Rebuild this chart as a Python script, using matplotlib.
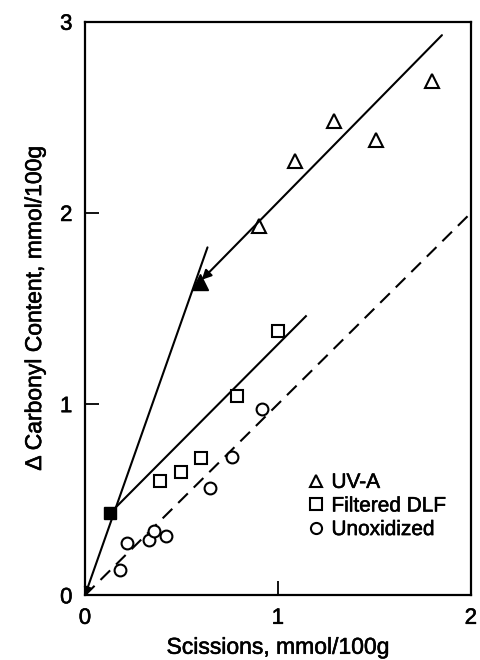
import numpy as np
import matplotlib
matplotlib.use('Agg')
import matplotlib.pyplot as plt
import matplotlib.patheffects as pe

plt.rcParams['font.family'] = ['Liberation Sans', 'DejaVu Sans']

# UV-A exposed samples
uva_x = [0.90, 1.09, 1.29, 1.51, 1.80]
uva_y = [1.93, 2.27, 2.48, 2.38, 2.69]

# filtered daylight fluorescent
dlf_x = [0.39, 0.50, 0.60, 0.79, 1.00]
dlf_y = [0.60, 0.645, 0.72, 1.04, 1.38]

# unoxidized reference
unox_x = [0.18, 0.22, 0.33, 0.36, 0.42, 0.65, 0.76, 0.92]
unox_y = [0.13, 0.276, 0.29, 0.337, 0.31, 0.56, 0.724, 0.972]

# intercept points (filled)
dlf_start = (0.13, 0.43)
uva_start = (0.595, 1.64)

# fitted line ends
steep_end = (0.635, 1.82)
uva_end = (1.85, 2.93)
dlf_end = (1.145, 1.46)
unox_end = (2.0, 2.0)

fig = plt.figure(figsize=(4.8, 6.6), dpi=100)
ax = fig.add_axes([0.177, 0.098, 0.804, 0.869])

lw = 1.5
ax.plot([dlf_start[0], dlf_end[0]], [dlf_start[1], dlf_end[1]], color='black', lw=lw)
ax.plot([0, unox_end[0]], [0, unox_end[1]], color='black', lw=lw, ls=(0, (6.5, 4)))

# arrows toward the origin and toward the UV-A intercept
ax.annotate('', xy=(0, 0), xytext=steep_end,
            arrowprops=dict(arrowstyle='-|>', color='black', lw=lw,
                            mutation_scale=11, shrinkA=0, shrinkB=0))
ax.annotate('', xy=uva_start, xytext=uva_end,
            arrowprops=dict(arrowstyle='-|>', color='black', lw=lw,
                            mutation_scale=14, shrinkA=0, shrinkB=2))

ax.plot(*uva_start, marker='^', ms=11, color='black', ls='none')
ax.plot(*dlf_start, marker='s', ms=9, color='black', ls='none')

mk = dict(ls='none', mfc='white', mec='black', mew=1.5)
h1, = ax.plot(uva_x, uva_y, marker='^', ms=10, **mk, label='UV-A')
h2, = ax.plot(dlf_x, dlf_y, marker='s', ms=8.5, **mk, label='Filtered DLF')
h3, = ax.plot(unox_x, unox_y, marker='o', ms=8.5, **mk, label='Unoxidized')

leg = ax.legend(handles=[h1, h2, h3], loc='upper left',
                bbox_to_anchor=(0.555, 0.228), frameon=False,
                handlelength=0.8, handletextpad=0.35, labelspacing=0.22,
                borderaxespad=0, fontsize=15)
for h in leg.legend_handles:
    h.set_markersize(8)
    h.set_markeredgewidth(1.5)

ax.set_xlim(0, 2)
ax.set_ylim(0, 3)
ax.set_xticks([0, 1, 2])
ax.set_yticks([0, 1, 2, 3])
ax.tick_params(direction='in', length=10, width=1.3, labelsize=16,
               top=False, right=False, pad=9)
for s in ax.spines.values():
    s.set_linewidth(1.6)

ax.set_xlabel('Scissions, mmol/100g', fontsize=16.5, labelpad=5)
ax.set_ylabel('\u0394 Carbonyl Content, mmol/100g', fontsize=16.5, labelpad=10)

# slightly heavier type, like the printed original
heavy = [pe.withStroke(linewidth=0.4, foreground='black')]
texts = (ax.get_xticklabels() + ax.get_yticklabels() + leg.get_texts()
         + [ax.xaxis.label, ax.yaxis.label])
for t in texts:
    t.set_path_effects(heavy)

fig.savefig('out.png', dpi=100)
